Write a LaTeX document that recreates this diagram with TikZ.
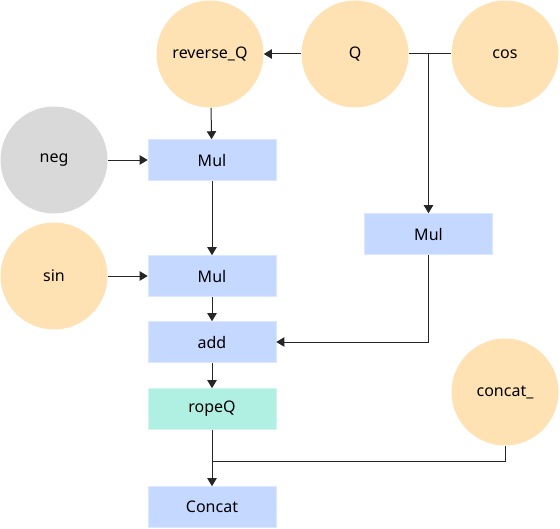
\documentclass[tikz,border=0pt]{standalone}
\usepackage{fontspec}
\setmainfont{Noto Sans}
\usetikzlibrary{arrows.meta}
\definecolor{peach}{RGB}{254,226,180}
\definecolor{greyc}{RGB}{217,217,217}
\definecolor{opblue}{RGB}{197,216,255}
\definecolor{opteal}{RGB}{176,240,226}
\tikzset{
  tensor/.style={circle,fill=peach,minimum size=80.25pt,inner sep=0pt,font=\fontsize{12pt}{14pt}\selectfont},
  opbox/.style={rectangle,fill=opblue,draw=opblue!60!white,minimum width=96pt,minimum height=30.75pt,inner sep=0pt,font=\fontsize{12pt}{14pt}\selectfont},
  link/.style={draw=black!85,line width=0.75pt},
  flow/.style={link,-{Triangle[length=6pt,width=7pt]}}
}
\begin{document}
\begin{tikzpicture}[x=0.75pt,y=-0.75pt]
\useasboundingbox (0,0) rectangle (560,528);
% inputs
\node[tensor] (revq) at (210,54) {reverse\_Q};
\node[tensor] (q) at (355,54) {Q};
\node[tensor] (cos) at (505,54) {cos};
\node[tensor,fill=greyc] (neg) at (54,160) {neg};
\node[tensor] (sin) at (54,276) {sin};
\node[tensor] (cc) at (505,392) {concat\_};
% operators
\node[opbox] (mula) at (212,160) {Mul};
\node[opbox] (mulb) at (212,276) {Mul};
\node[opbox] (mulc) at (428.5,234) {Mul};
\node[opbox] (add) at (212,342) {add};
\node[opbox,fill=opteal,draw=opteal!60!white] (ropeq) at (212,409) {ropeQ};
\node[opbox] (concat) at (212,507) {Concat};
% joints
\coordinate (jq) at (428.5,54);
\coordinate (jc) at (212,461);
% edges
\draw[flow] (q) -- (revq);
\draw[link] (q) -- (cos);
\draw[flow] (jq) -- (mulc);
\draw[flow] (revq) -- (mula);
\draw[flow] (neg) -- (mula);
\draw[flow] (mula) -- (mulb);
\draw[flow] (sin) -- (mulb);
\draw[flow] (mulb) -- (add);
\draw[flow] (mulc.south) |- (add.east);
\draw[flow] (add) -- (ropeq);
\draw[flow] (ropeq) -- (concat);
\draw[link] (cc.south) |- (jc);
\end{tikzpicture}
\end{document}
